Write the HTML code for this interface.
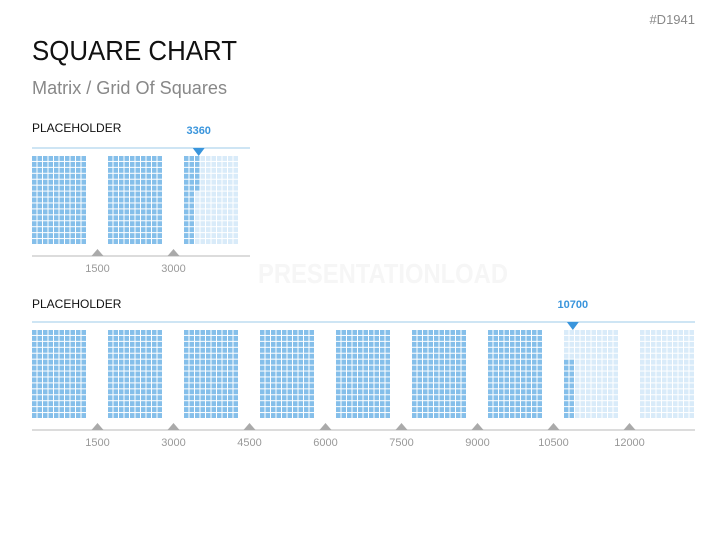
<!DOCTYPE html>
<html><head><meta charset="utf-8"><style>
html,body{margin:0;padding:0;background:#fff;}
svg{display:block;font-family:"Liberation Sans",sans-serif;}
</style></head><body>
<svg id="chart" width="727" height="545" viewBox="0 0 727 545">
  <text x="695" y="24" font-size="13" fill="#888" text-anchor="end">#D1941</text>
  <text x="32" y="60" font-size="28" fill="#111" textLength="205" lengthAdjust="spacingAndGlyphs">SQUARE CHART</text>
  <text x="32" y="94" font-size="18" fill="#888" textLength="195" lengthAdjust="spacingAndGlyphs">Matrix / Grid Of Squares</text>
  <text x="258" y="283" font-size="28" font-weight="bold" fill="#f6f6f6" textLength="250" lengthAdjust="spacingAndGlyphs">PRESENTATIONLOAD</text>
  <g id="c1"></g>
  <g id="c2"></g>
</svg>
<script>
const chart1Ticks = [1500, 3000];
const chart1Value = 3360;
const chart1Blocks = 3;
const chart2Ticks = [1500, 3000, 4500, 6000, 7500, 9000, 10500, 12000];
const chart2Value = 10700;
const chart2Blocks = 9;
const chartLabels = ["PLACEHOLDER", "PLACEHOLDER"];
const BLOCK_VALUE = 1500, COLS = 10, ROWS = 15;
const NS = "http://www.w3.org/2000/svg";
function mk(parent, tag, attrs){const e=document.createElementNS(NS,tag);for(const k in attrs)e.setAttribute(k,attrs[k]);parent.appendChild(e);return e;}
function draw(g, label, blocks, value, ticks, top, lineRight, bottomFill, labelOff){
  const x0=32, pitch=76, bw=55, bh=89, gy=top+8;
  const xScale = v => { const b=Math.floor(v/BLOCK_VALUE); return x0+b*pitch+(v-b*BLOCK_VALUE)/BLOCK_VALUE*bw; };
  const t=mk(g,'text',{x:32,y:top-labelOff,'font-size':12,fill:'#111'});t.textContent=label;
  
  
  const l=mk(g,'line',{x1:32,x2:lineRight,y1:top,y2:top,stroke:'#9ccbea','stroke-width':1});
  
  
  const ay=gy+bh+11;
  const ax=mk(g,'line',{x1:32,x2:lineRight,y1:ay,y2:ay,stroke:'#d0d0d0','stroke-width':1.5});
  
  
  const cw=bw/COLS, ch=bh/ROWS;
  for(let b=0;b<blocks;b++){
    const bx=x0+b*pitch;
    const filledCount=Math.max(0,Math.min(COLS*ROWS,Math.round((value-b*BLOCK_VALUE)/10)));
    const partial=filledCount<COLS*ROWS;
    const bg=mk(g,'g',{});
    
    
    for(let c=0;c<COLS;c++)for(let r=0;r<ROWS;r++){
      let filled;
      if(!partial) filled=true;
      else if(bottomFill){
        // fill 2 columns wide, rising from the bottom
        const rr=ROWS-1-r;
        filled = c<2 && (rr*2+c)<filledCount;
      } else filled=(c*ROWS+r)<filledCount;
      const sq=mk(bg,'rect',{x:bx+c*cw,y:gy+r*ch,width:cw-1,height:ch-1,fill:filled?'#85bfea':'#d9ebf9'});
      
      
    }
  }
  ticks.forEach(v=>{
    const tx=xScale(v)-10.5;
    const tr=mk(g,'polygon',{points:`${tx-6},${ay} ${tx+6},${ay} ${tx},${ay-7}`,fill:'#aaa'});
    
    
    const tl=mk(g,'text',{x:tx,y:ay+16,'font-size':11,fill:'#999','text-anchor':'middle'});tl.textContent=v;
    
    
  });
  const mx=xScale(value)+1.5;
  const m=mk(g,'polygon',{points:`${mx-6},${top} ${mx+6},${top} ${mx},${top+8}`,fill:'#3a95dc'});
  
  
  const mt=mk(g,'text',{x:mx,y:top-14,'font-size':11,'font-weight':'bold',fill:'#3a95dc','text-anchor':'middle'});mt.textContent=value;
  
  
}
draw(document.getElementById('c1'),chartLabels[0],chart1Blocks,chart1Value,chart1Ticks,148,250,false,16);
draw(document.getElementById('c2'),chartLabels[1],chart2Blocks,chart2Value,chart2Ticks,322,695,true,14);
</script>
</body></html>
